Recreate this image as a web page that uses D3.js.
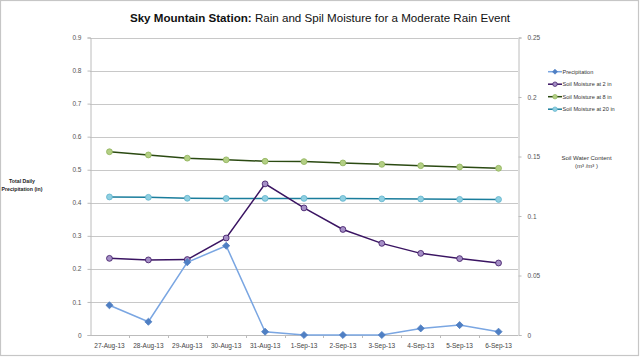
<!DOCTYPE html>
<html><head><meta charset="utf-8">
<script src="https://cdn.jsdelivr.net/npm/d3@7"></script>
<style>body{margin:0;background:#fff}svg{display:block;font-family:"Liberation Sans",Arial,sans-serif}</style>
</head><body><svg id="c" width="640" height="357"></svg>
<script>
const dates = ["27-Aug-13","28-Aug-13","29-Aug-13","30-Aug-13","31-Aug-13","1-Sep-13","2-Sep-13","3-Sep-13","4-Sep-13","5-Sep-13","6-Sep-13"];
const precipitation = [0.09,0.04,0.22,0.27,0.01,0,0,0,0.02,0.03,0.01];
const soil2in  = [0.0644,0.0631,0.0634,0.0815,0.1270,0.1068,0.0887,0.0770,0.0686,0.0642,0.0605];
const soil8in  = [0.1540,0.1513,0.1486,0.1472,0.1460,0.1457,0.1446,0.1434,0.1423,0.1412,0.1401];
const soil20in = [0.1160,0.1157,0.1149,0.1147,0.1148,0.1148,0.1148,0.1144,0.1143,0.1140,0.1139];
const leftTicks = [0,0.1,0.2,0.3,0.4,0.5,0.6,0.7,0.8,0.9];
const rightTicks = [0,0.05,0.1,0.15,0.2,0.25];

const svg = d3.select("#c");
const L=90, R=518, T=37.5, B=335;
const x = d3.scaleBand().domain(dates).range([L,R]);
const yL = d3.scaleLinear().domain([0,0.9]).range([B,T]);
const yR = d3.scaleLinear().domain([0,0.25]).range([B,T]);

// frame
svg.append("rect").attr("x",0.5).attr("y",0.5).attr("width",638).attr("height",355)
  .attr("fill","none").attr("stroke","#c6c6c6").attr("stroke-width",1.2);

// gridlines
svg.append("g").selectAll("line").data(leftTicks.filter(d=>d>0)).join("line")
  .attr("x1",L).attr("x2",R).attr("y1",d=>Math.round(yL(d))+0.5).attr("y2",d=>Math.round(yL(d))+0.5)
  .attr("stroke","#c8c8c8").attr("stroke-width",1);

const gray="#bcbcbc";
// left axis
const ax = svg.append("g").attr("transform",`translate(${L+0.5},0)`)
  .call(d3.axisLeft(yL).tickValues(leftTicks).tickFormat(d=>d3.format("")(d)).tickSize(3));
ax.select(".domain").attr("stroke",gray);
ax.selectAll(".tick line").attr("stroke",gray);
ax.selectAll("text").attr("font-size",6.5).attr("fill","#555").attr("dx",-3);

// right axis
const ar = svg.append("g").attr("transform",`translate(${R+0.5},0)`)
  .call(d3.axisRight(yR).tickValues(rightTicks).tickFormat(d=>d3.format("")(d)).tickSize(3));
ar.select(".domain").attr("stroke",gray);
ar.selectAll(".tick line").attr("stroke",gray);
ar.selectAll("text").attr("font-size",6.5).attr("fill","#555").attr("dx",3);

// bottom axis
svg.append("line").attr("x1",L).attr("x2",R).attr("y1",B+0.5).attr("y2",B+0.5).attr("stroke",gray);
svg.append("g").selectAll("line").data(dates.slice(1)).join("line")
  .attr("x1",d=>Math.round(x(d))+0.5).attr("x2",d=>Math.round(x(d))+0.5)
  .attr("y1",B).attr("y2",B+3).attr("stroke",gray);
svg.append("g").selectAll("text").data(dates).join("text")
  .attr("x",d=>x(d)+x.bandwidth()/2).attr("y",B+13).attr("text-anchor","middle")
  .attr("font-size",6.5).attr("fill","#444").text(d=>d);

const cx = d=>x(d)+x.bandwidth()/2;
function series(vals, yScale, lineColor, markerFill, markerStroke, shape, lw){
  const g = svg.append("g");
  g.append("path").datum(vals).attr("fill","none").attr("stroke",lineColor).attr("stroke-width",lw)
    .attr("d", d3.line().x((v,i)=>cx(dates[i])).y(v=>yScale(v)));
  const sym = shape==="diamond" ? d3.symbol().type(d3.symbolDiamond2).size(32) : d3.symbol().type(d3.symbolCircle).size(27);
  g.selectAll("path.m").data(vals).join("path").attr("class","m")
    .attr("transform",(v,i)=>`translate(${cx(dates[i])},${yScale(v)})`)
    .attr("d",sym).attr("fill",markerFill).attr("stroke",markerStroke).attr("stroke-width",0.8);
}
series(soil8in, yR, "#2b4a12", "#b3cf84", "#8fb35a", "circle", 1.5);
series(soil20in, yR, "#1a7d9c", "#8fd0e2", "#5fb3cc", "circle", 1.5);
series(soil2in, yR, "#3a1462", "#a58fc6", "#3a1462", "circle", 1.5);
series(precipitation, yL, "#7aa6e2", "#4f7fc3", "#4f7fc3", "diamond", 1.5);

// legend
const legend = [
  {name:"Precipitation", line:"#7aa6e2", fill:"#4f7fc3", stroke:"#4f7fc3", shape:"diamond"},
  {name:"Soil Moisture at 2 in", line:"#3a1462", fill:"#a58fc6", stroke:"#3a1462", shape:"circle"},
  {name:"Soil Moisture at 8 in", line:"#2b4a12", fill:"#b3cf84", stroke:"#8fb35a", shape:"circle"},
  {name:"Soil Moisture at 20 in", line:"#1a7d9c", fill:"#8fd0e2", stroke:"#5fb3cc", shape:"circle"}
];
const lg = svg.append("g");
legend.forEach((e,i)=>{
  const yy = 71.7 + i*12.5;
  lg.append("line").attr("x1",548).attr("x2",562).attr("y1",yy).attr("y2",yy).attr("stroke",e.line).attr("stroke-width",1.5);
  const sym = e.shape==="diamond" ? d3.symbol().type(d3.symbolDiamond2).size(16) : d3.symbol().type(d3.symbolCircle).size(16);
  lg.append("path").attr("transform",`translate(555,${yy})`).attr("d",sym).attr("fill",e.fill).attr("stroke",e.stroke).attr("stroke-width",0.7);
  lg.append("text").attr("x",562.5).attr("y",yy+2).attr("font-size",5.6).attr("fill","#333").text(e.name);
});

// axis titles
const lt = svg.append("text").attr("text-anchor","middle").attr("font-size",5.2).attr("font-weight","bold").attr("fill","#222");
lt.append("tspan").attr("x",22).attr("y",183).text("Total Daily");
lt.append("tspan").attr("x",22).attr("y",191).text("Precipitation (in)");
const rt = svg.append("text").attr("text-anchor","middle").attr("font-size",6).attr("fill","#333");
rt.append("tspan").attr("x",586.5).attr("y",159.5).text("Soil Water Content");
rt.append("tspan").attr("x",586.5).attr("y",168).text("(m³ /m³ )");

// title
const t = svg.append("text").attr("x",320).attr("y",22).attr("text-anchor","middle").attr("font-size",11.6).attr("fill","#111");
t.append("tspan").attr("font-weight","bold").text("Sky Mountain Station:");
t.append("tspan").text(" Rain and Spil Moisture for a Moderate Rain Event");
</script></body></html>
